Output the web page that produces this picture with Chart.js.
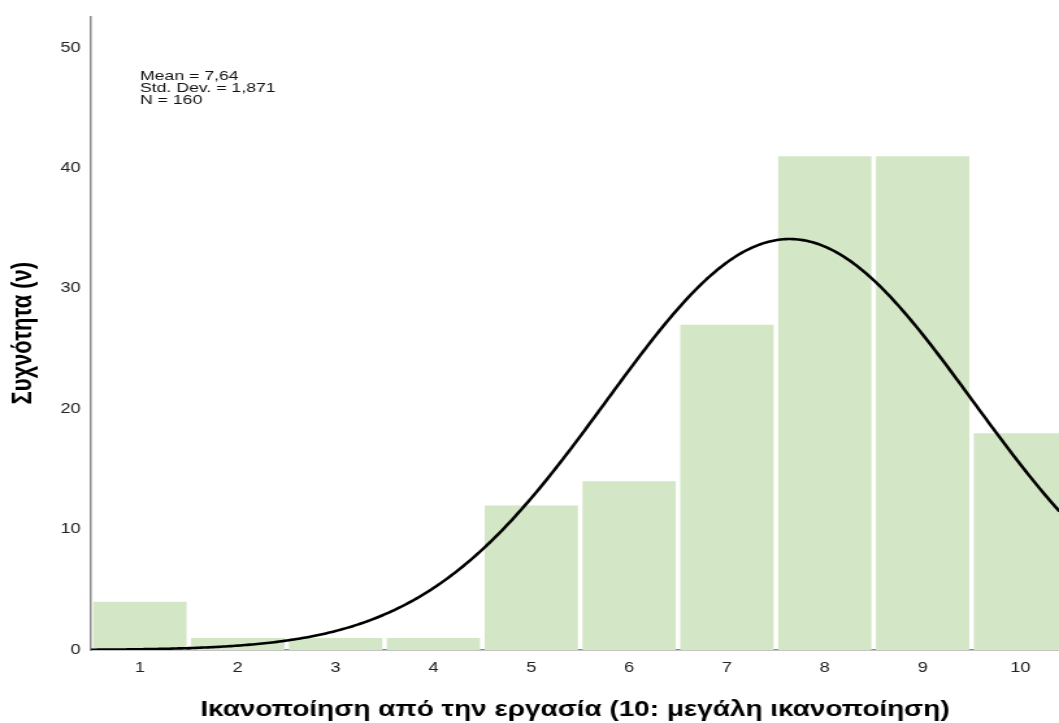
<!DOCTYPE html>
<html>
<head>
<meta charset="utf-8">
<script src="https://cdn.jsdelivr.net/npm/chart.js@4/dist/chart.umd.min.js"></script>
<style>
  html, body { margin: 0; padding: 0; background: #ffffff; overflow: hidden; }
  /* the chart is laid out on a narrower canvas and widened to the page width */
  #wrap { width: 815px; height: 723px; transform-origin: 0 0; transform: scale(1.2994, 1); }
  canvas { display: block; }
</style>
</head>
<body>
<div id="wrap"><canvas id="hist" width="815" height="723"></canvas></div>
<script>
// Histogram of job satisfaction scores (1..10) with a fitted normal curve
const categories = [1, 2, 3, 4, 5, 6, 7, 8, 9, 10];
const frequencies = [4, 1, 1, 1, 12, 14, 27, 41, 41, 18];
const xTickValues = [1, 2, 3, 4, 5, 6, 7, 8, 9, 10];
const yTickValues = [0, 10, 20, 30, 40, 50];

// summary statistics printed on the chart; the normal curve is drawn from them
const meanValue = 7.64;
const stdDevValue = 1.871;
const nValue = 160;
const binWidth = 1;

const xTitle = 'Ικανοποίηση από την εργασία (10: μεγάλη ικανοποίηση)';
const yTitle = 'Συχνότητα (ν)';

const FONT = '"Liberation Sans", Arial, sans-serif';

const barPoints = categories.map((c, i) => ({ x: c, y: frequencies[i] }));

// expected counts under N(mean, sd) scaled by N and the bin width
const curvePoints = [];
for (let k = 0; k <= 400; k++) {
  const x = 0.5 + k * 0.025;
  const z = (x - meanValue) / stdDevValue;
  const y = nValue * binWidth * Math.exp(-0.5 * z * z) / (stdDevValue * Math.sqrt(2 * Math.PI));
  curvePoints.push({ x: x, y: y });
}

const statsLines = [
  'Mean = ' + meanValue.toFixed(2).replace('.', ','),
  'Std. Dev. = ' + stdDevValue.toFixed(3).replace('.', ','),
  'N = ' + nValue
];

const statsBox = {
  id: 'statsBox',
  afterDraw(chart) {
    const ctx = chart.ctx;
    ctx.save();
    ctx.font = '13.6px ' + FONT;
    ctx.fillStyle = '#111111';
    ctx.textAlign = 'left';
    ctx.textBaseline = 'alphabetic';
    const x0 = chart.chartArea.left + 37.7;
    statsLines.forEach((t, i) => ctx.fillText(t, x0, 80.3 + i * 11.9));
    ctx.restore();
  }
};

new Chart(document.getElementById('hist'), {
  type: 'bar',
  data: {
    datasets: [
      {
        type: 'line',
        data: curvePoints,
        borderColor: '#000000',
        borderWidth: 2.6,
        pointRadius: 0,
        tension: 0,
        fill: false,
        order: 0
      },
      {
        type: 'bar',
        data: barPoints,
        backgroundColor: '#d3e6c5',
        borderWidth: 0,
        categoryPercentage: 1,
        barPercentage: 0.954,
        order: 1
      }
    ]
  },
  options: {
    responsive: false,
    animation: false,
    devicePixelRatio: 1,
    layout: { padding: { top: 13, left: 0, right: 0, bottom: 0 } },
    plugins: { legend: { display: false }, tooltip: { enabled: false } },
    scales: {
      x: {
        type: 'linear',
        min: 0.5,
        max: 10.394,
        offset: false,
        grid: { display: false, drawTicks: false },
        border: { display: true, color: '#8a8a8a', width: 1.5 },
        afterBuildTicks: (scale) => { scale.ticks = xTickValues.map(v => ({ value: v })); },
        afterFit: (scale) => { scale.height = 73; },
        ticks: {
          padding: 10,
          color: '#222222',
          font: { family: FONT, size: 14 },
          maxRotation: 0,
          autoSkip: false
        },
        title: {
          display: true,
          text: xTitle,
          color: '#000000',
          font: { family: FONT, size: 21.5, weight: 'bold', lineHeight: 1.2 },
          padding: { top: 0, bottom: 0 }
        }
      },
      y: {
        type: 'linear',
        min: 0,
        max: 52.6,
        grid: { display: false, drawTicks: false },
        border: { display: true, color: '#8a8a8a', width: 1.5 },
        afterBuildTicks: (scale) => { scale.ticks = yTickValues.map(v => ({ value: v })); },
        afterFit: (scale) => { scale.width = 70; },
        ticks: {
          padding: 8,
          color: '#222222',
          font: { family: FONT, size: 14 }
        },
        title: {
          display: true,
          text: yTitle,
          color: '#000000',
          font: { family: FONT, size: 22, weight: 'bold', lineHeight: 1.2 },
          padding: { top: 5, bottom: 0 }
        }
      }
    }
  },
  plugins: [statsBox]
});
</script>
</body>
</html>
